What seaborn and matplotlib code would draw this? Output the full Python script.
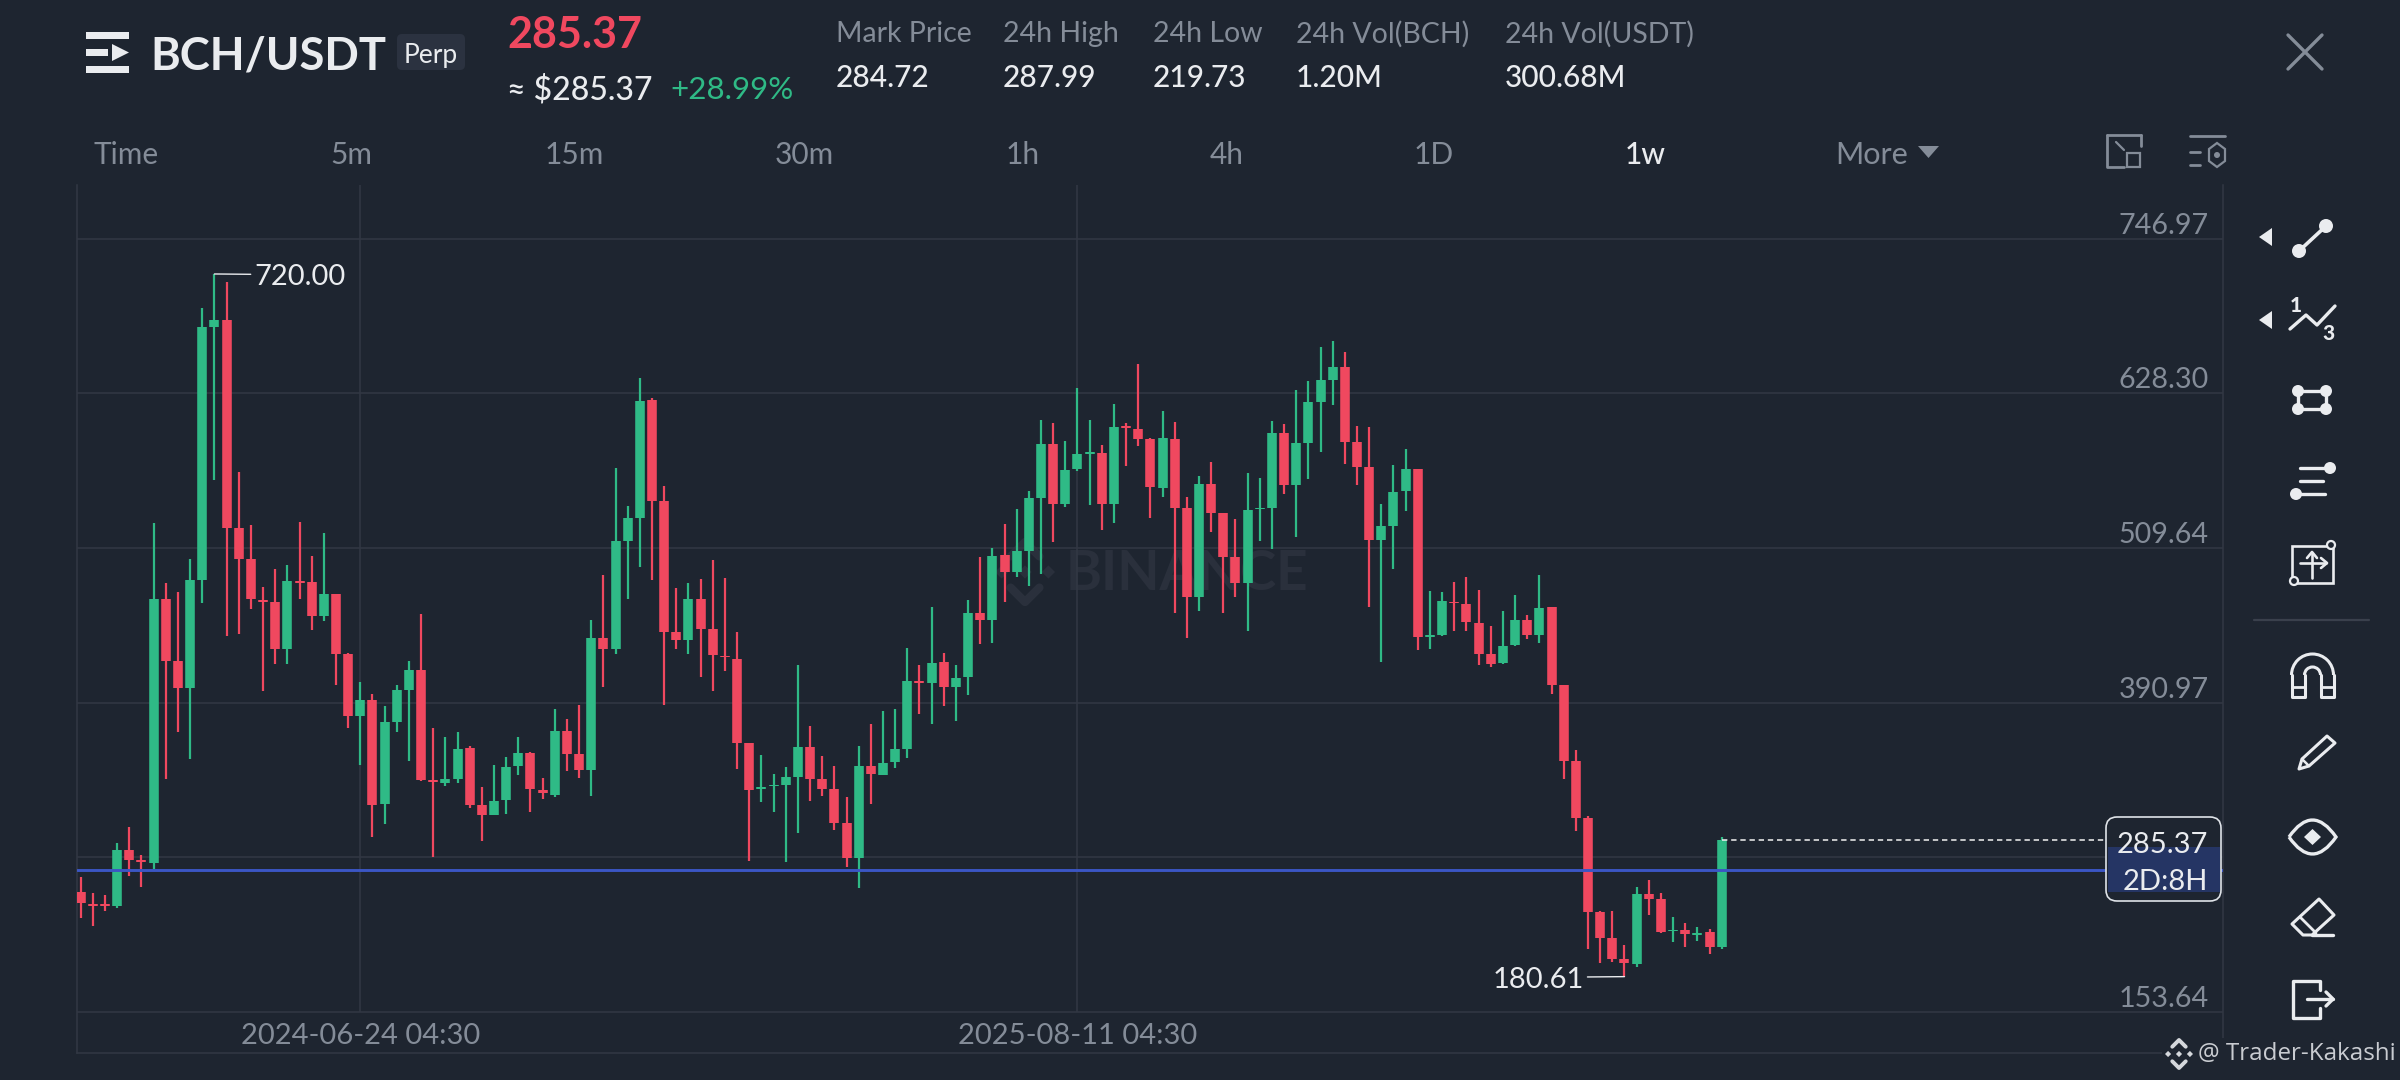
import matplotlib
matplotlib.use("Agg")
import matplotlib.pyplot as plt
import seaborn as sns
import pandas as pd
from matplotlib.patches import FancyBboxPatch, Rectangle, Polygon, Circle, Arc, PathPatch
from matplotlib.path import Path

# ---------- data ----------
open_ = [245.5,236.2,236.2,234.7,277.5,270.0,268.2,470.6,423.0,402.5,485.1,679.4,684.9,524.9,501.5,469.9,468.0,432.3,484.4,483.6,
 457.6,474.0,428.2,380.6,393.2,312.8,376.1,400.6,416.3,331.4,329.6,332.2,356.4,312.1,305.0,316.2,342.2,352.6,323.6,320.3,
 369.4,351.5,339.6,440.8,432.3,514.9,532.8,623.0,545.9,445.3,438.7,470.8,447.8,426.9,424.8,360.3,324.7,326.6,327.4,334.0,
 356.8,332.6,325.0,298.9,272.0,342.2,335.6,345.0,355.7,407.5,406.1,422.0,403.1,410.5,459.9,454.4,504.0,491.1,507.3,548.4,
 589.8,543.7,570.0,581.8,582.6,543.7,603.0,601.0,593.6,555.9,593.5,540.1,472.3,558.8,536.2,503.0,483.0,539.3,540.6,597.6,
 557.7,590.5,622.0,638.6,648.3,591.0,571.8,515.8,526.5,553.4,570.3,441.6,442.6,468.4,466.6,452.3,428.0,421.1,434.9,454.4,
 442.8,464.1,404.2,346.1,302.1,230.2,210.2,194.1,190.0,243.8,240.0,215.4,216.4,212.8,214.6,203.6]
close = [236.9,235.0,234.7,277.5,270.0,268.5,470.6,423.0,402.5,485.1,679.4,684.9,524.9,501.5,470.2,468.0,432.3,484.4,482.5,457.6,
 474.0,428.2,380.6,393.2,312.5,376.1,400.6,416.3,331.4,329.9,332.2,355.6,312.1,305.0,315.8,341.9,351.9,324.4,321.8,369.4,
 351.5,339.3,440.8,432.3,514.9,532.5,622.7,545.9,445.3,438.7,470.8,447.8,427.5,425.6,360.3,324.1,325.8,327.7,333.7,356.8,
 332.6,325.0,298.9,272.0,342.2,335.9,344.7,355.4,407.5,406.1,421.7,403.1,410.2,459.9,454.4,503.7,491.1,507.3,548.1,589.8,
 543.7,569.8,581.6,583.2,543.7,602.7,601.6,593.6,556.1,593.8,540.1,472.3,558.8,536.2,503.0,483.0,538.8,540.6,597.6,557.7,
 590.5,621.4,638.3,648.3,591.0,571.5,515.8,526.5,552.9,570.0,441.3,442.8,468.9,467.2,452.6,428.3,420.6,434.4,454.4,442.8,
 463.6,404.5,346.1,302.6,230.5,210.5,194.1,190.8,243.8,240.2,215.1,216.6,213.1,213.8,203.6,285.37]
high = [257.4,245.1,243.6,283.1,295.7,274.1,529.0,482.5,475.8,501.1,693.5,720.0,714.0,567.7,527.2,479.9,493.3,496.6,529.8,503.4,
 521.2,474.0,428.9,406.6,397.7,388.4,404.4,423.0,458.7,371.6,364.9,368.6,357.5,326.2,343.4,349.3,364.2,353.4,333.3,386.1,
 378.3,389.1,454.2,488.8,570.7,541.8,640.5,624.6,556.9,478.7,482.9,486.2,500.1,486.7,445.0,360.3,350.5,336.5,341.4,419.5,
 373.2,349.6,342.0,318.4,357.9,374.3,384.5,386.1,433.0,419.5,464.2,428.9,419.5,469.7,502.6,510.0,527.8,539.6,553.3,608.1,
 605.4,592.0,632.8,607.6,589.0,619.9,605.4,650.6,594.2,615.0,606.3,549.0,564.9,575.9,536.2,531.9,567.4,563.1,606.9,604.5,
 630.9,637.8,663.7,668.8,660.3,603.3,602.8,543.4,573.1,585.4,570.3,476.4,475.8,483.5,487.4,477.4,449.7,461.5,473.3,457.9,
 488.9,464.6,404.2,354.6,304.1,231.2,231.0,204.9,249.1,254.8,244.5,226.6,221.5,218.9,216.9,287.99]
low = [225.8,219.1,231.0,233.6,257.8,249.6,263.0,332.6,368.6,347.4,467.6,562.1,441.9,443.4,462.8,399.5,420.8,420.8,470.6,446.8,
 453.5,404.7,371.6,343.0,287.9,297.9,368.6,346.3,330.7,272.3,327.3,329.6,310.2,284.9,304.6,305.8,335.5,306.9,316.9,318.8,
 338.1,333.3,319.5,402.9,428.6,470.8,495.2,485.0,389.4,431.9,428.6,410.5,399.5,414.9,340.0,269.6,314.8,306.9,268.8,290.9,
 315.6,319.5,292.9,264.9,249.0,313.4,335.1,340.9,348.3,382.0,374.8,388.6,376.5,397.1,436.0,436.8,468.1,487.2,480.7,489.7,
 514.1,541.5,569.0,542.6,523.2,529.2,572.5,587.6,532.8,549.0,460.0,440.3,461.5,522.2,459.5,471.7,446.2,515.0,508.6,550.8,
 518.1,562.8,583.6,619.1,574.1,558.0,464.6,422.4,493.2,538.0,431.3,431.8,442.1,446.2,446.2,419.8,418.5,420.6,434.4,439.8,
 436.4,397.6,332.0,292.6,201.5,191.3,192.1,180.61,188.2,227.7,213.8,206.9,203.6,207.9,198.0,201.5]
y_ticks = [746.97, 628.30, 509.64, 390.97, 272.30, 153.64]
y_tick_labels = ["746.97", "628.30", "509.64", "390.97", "", "153.64"]
x_tick_pos = [23, 82]
x_tick_labels = ["2024-06-24 04:30", "2025-08-11 04:30"]
level_price = 262.75
last_price = 285.37
stat_names = ["Mark Price", "24h High", "24h Low", "24h Vol(BCH)", "24h Vol(USDT)"]
stat_values = ["284.72", "287.99", "219.73", "1.20M", "300.68M"]
tab_names = ["5m", "15m", "30m", "1h", "4h", "1D", "1w"]

# ---------- style ----------
BG, GRID = "#1e2530", "#323844"
GREEN, RED = "#2fba86", "#f0485f"
GREY, WHITE = "#848c98", "#eaecef"
BLUE = "#3b56c4"
sns.set_theme(style="dark", rc={"axes.facecolor": BG, "figure.facecolor": BG})
plt.rcParams["font.family"] = ["Lato", "DejaVu Sans"]

fig = plt.figure(figsize=(24, 10.8), dpi=100)
def overlay(z):
    a = fig.add_axes([0, 0, 1, 1], zorder=z)
    a.set_xlim(0, 2400); a.set_ylim(1080, 0); a.axis("off")
    a.patch.set_alpha(0)
    return a
back = overlay(0)
front = overlay(2)

# ---------- candles ----------
ax = fig.add_axes([76.5/2400, 27/1080, 2146/2400, 868/1080], zorder=1)
ax.patch.set_alpha(0)
n = list(range(len(open_)))
direction = ["up" if c >= o else "down" for o, c in zip(open_, close)]
palette = {"up": GREEN, "down": RED}
wicks = pd.DataFrame({"x": n + n, "price": high + low, "candle": n + n, "dir": direction + direction})
bodies = pd.DataFrame({"x": n + n, "price": open_ + close, "candle": n + n, "dir": direction + direction})

ax.hlines(y_ticks, -1, 180, color=GRID, lw=1.1, zorder=0)
ax.vlines(x_tick_pos, y_ticks[-1], 800, color=GRID, lw=1.1, zorder=0)
sns.lineplot(data=wicks, x="x", y="price", units="candle", hue="dir", palette=palette, estimator=None,
             lw=1.6, solid_capstyle="butt", legend=False, ax=ax, zorder=2)
sns.lineplot(data=bodies, x="x", y="price", units="candle", hue="dir", palette=palette, estimator=None,
             lw=6.9, solid_capstyle="butt", legend=False, ax=ax, zorder=3)
ax.set_xlim(-0.346, 176.2)
ax.set_ylim(121.99, 788.3)
ax.axhline(level_price, color=BLUE, lw=2.1, zorder=4)
ax.hlines(last_price, 135, 170, color="#f2f2f2", lw=1.1, ls=(0, (3.5, 2.5)), zorder=4)
ax.set_xlabel(""); ax.set_ylabel("")

ax.set_xticks(x_tick_pos, x_tick_labels)
ax.set_yticks(y_ticks, y_tick_labels)
ax.yaxis.tick_right()
ax.tick_params(axis="y", length=0, pad=-9.7, labelsize=20.7, labelcolor=GREY)
ax.tick_params(axis="x", length=0, pad=-12.5, labelsize=21, labelcolor=GREY)
for l in ax.get_yticklabels():
    l.set_ha("right"); l.set_va("bottom")
for l in ax.get_xticklabels():
    l.set_va("center")
for s in ["left", "right", "bottom"]:
    ax.spines[s].set_color(GRID); ax.spines[s].set_linewidth(1.1)
ax.spines["top"].set_visible(False)

ax.annotate("720.00", xy=(11, high[11]), xytext=(28.5, -2.5), textcoords="offset points", va="center", ha="left",
            color=WHITE, fontsize=21, zorder=5,
            arrowprops=dict(arrowstyle="-", color=WHITE, lw=1, shrinkA=0, shrinkB=0, relpos=(0, 0.62)))
ax.annotate("180.61", xy=(127, low[127]), xytext=(-29, -2.5), textcoords="offset points", va="center", ha="right",
            color=WHITE, fontsize=21, zorder=5,
            arrowprops=dict(arrowstyle="-", color=WHITE, lw=1, shrinkA=0, shrinkB=0, relpos=(1, 0.62)))

# ---------- helpers for the app chrome ----------
def ln(a, xs, ys, c=WHITE, lw=2.4, **k):
    a.plot(xs, ys, color=c, lw=lw, solid_capstyle="round", solid_joinstyle="round", **k)
def dot(a, x, y, r, c=WHITE):
    a.add_patch(Circle((x, y), r, fc=c, ec=c, lw=0))
def ring(a, x, y, r, c=WHITE):
    a.add_patch(Circle((x, y), r, fc=BG, ec=c, lw=1.6, zorder=5))
def poly(a, pts, fc=WHITE, ec="none", lw=0, **k):
    a.add_patch(Polygon(pts, closed=True, fc=fc, ec=ec, lw=lw, **k))
def logo(a, cx, cy, s, c):
    q = s * 0.22
    for dx, dy in [(0, 0), (-s * .78, 0), (s * .78, 0)]:
        poly(a, [(cx+dx-q, cy+dy), (cx+dx, cy+dy-q), (cx+dx+q, cy+dy), (cx+dx, cy+dy+q)], fc=c)
    lw = s * 0.2
    ln(a, [cx-s*.48, cx, cx+s*.48], [cy-s*.52, cy-s, cy-s*.52], c=c, lw=lw)
    ln(a, [cx-s*.48, cx, cx+s*.48], [cy+s*.52, cy+s, cy+s*.52], c=c, lw=lw)

# ---------- watermark behind the candles ----------
WM = "#2a303c"
logo(back, 1025, 572, 30, WM)
back.text(1066, 574, "BINANCE", color=WM, fontsize=39.5, fontweight="bold", va="center", ha="left")

# ---------- header ----------
for y0, y1, x1 in [(32, 39, 129), (66, 73, 129), (49, 56, 108)]:
    front.add_patch(Rectangle((86, y0), x1 - 86, y1 - y0, fc=WHITE, ec="none"))
poly(front, [(112, 44), (129, 52.5), (112, 61)])
front.text(150, 56.5, "BCH/USDT", color=WHITE, fontsize=32.7, fontweight="bold", va="center", ha="left")
front.add_patch(FancyBboxPatch((400, 37), 62, 30, boxstyle="round,pad=3,rounding_size=5", fc="#2b3240", ec="none"))
front.text(431, 55, "Perp", color=WHITE, fontsize=19, va="center", ha="center")
front.text(507, 34.5, "285.37", color=RED, fontsize=31, fontweight="bold", va="center", ha="left")
front.text(507, 90, "≈ $285.37", color=WHITE, fontsize=23, fontweight="medium", va="center", ha="left")
front.text(670, 90, "+28.99%", color=GREEN, fontsize=22.5, va="center", ha="left")
for x, nm, v in zip([836, 1003, 1153, 1296, 1505], stat_names, stat_values):
    front.text(x, 34, nm, color=GREY, fontsize=20.5, va="center", ha="left")
    front.text(x, 78, v, color=WHITE, fontsize=21.5, fontweight="medium", va="center", ha="left")

# ---------- tabs ----------
front.text(93, 155, "Time", color=GREY, fontsize=21.5, va="center", ha="left")
for x, nm in zip([351, 574, 804, 1023, 1227, 1434, 1645], tab_names):
    front.text(x, 155, nm, color=WHITE if nm == "1w" else GREY, fontsize=21.5, va="center", ha="center",
               fontweight="medium" if nm == "1w" else "normal")
front.text(1835, 155, "More", color=GREY, fontsize=22, va="center", ha="left")
poly(front, [(1918, 146), (1939, 146), (1928.5, 158)], fc=GREY)
ln(front, [2288, 2322], [35, 69], c=GREY, lw=2.4)
ln(front, [2322, 2288], [35, 69], c=GREY, lw=2.4)

ln(front, [2107, 2107, 2124], [135, 167, 167], c=GREY, lw=2)
ln(front, [2141, 2141], [135, 146], c=GREY, lw=2)
ln(front, [2107, 2141], [135, 135], c=GREY, lw=2)
front.add_patch(Rectangle((2127, 153), 13, 14, fc="none", ec=GREY, lw=1.6))
ln(front, [2116, 2124], [142, 150], c=GREY, lw=1.6)
ln(front, [2190, 2225], [136, 136], c=GREY, lw=2)
ln(front, [2190, 2200], [152, 152], c=GREY, lw=2)
ln(front, [2190, 2200], [165, 165], c=GREY, lw=2)
poly(front, [(2217, 143), (2225, 149), (2225, 161), (2217, 167), (2209, 161), (2209, 149)], fc="none", ec=GREY, lw=1.6)
dot(front, 2217, 155, 3, GREY)

# ---------- price box ----------
front.add_patch(FancyBboxPatch((2112, 823), 103, 72, boxstyle="round,pad=6,rounding_size=11", fc=BG, ec="#dfe3e8", lw=1.2))
front.add_patch(Rectangle((2108, 847), 112, 45, fc="#253564", ec="none"))
front.text(2208, 845, "285.37", color=WHITE, fontsize=21, va="center", ha="right")
front.text(2208, 882, "2D:8H", color=WHITE, fontsize=21, va="center", ha="right")

# ---------- toolbar ----------
poly(front, [(2259, 237), (2272, 228), (2272, 246)], fc=WHITE)
poly(front, [(2259, 320), (2272, 311), (2272, 329)], fc=WHITE)
ln(front, [2299, 2326], [251, 226], lw=2.6)
dot(front, 2299, 251, 7); dot(front, 2326, 226, 7)
ln(front, [2290, 2306, 2317, 2335], [329, 315, 325, 306], lw=2.4)
front.text(2296, 305, "1", color=WHITE, fontsize=15, fontweight="black", va="center", ha="center")
front.text(2328, 334, "3", color=WHITE, fontsize=15, fontweight="black", va="center", ha="center")
ln(front, [2298, 2326, 2326, 2298, 2298], [391, 391, 409, 409, 391], lw=2.4)
for x, y in [(2298, 391), (2326, 391), (2298, 409), (2326, 409)]:
    dot(front, x, y, 6)
ln(front, [2300, 2325], [468, 468]); ln(front, [2300, 2323], [481, 481]); ln(front, [2300, 2325], [494, 494])
dot(front, 2330, 468, 6); dot(front, 2296, 494, 6)
front.add_patch(Rectangle((2292, 546), 41, 37, fc="none", ec=WHITE, lw=1.9))
ln(front, [2300, 2326], [563, 563], lw=1.9); ln(front, [2312, 2312], [553, 578], lw=1.9)
ln(front, [2307, 2312, 2317], [558, 552, 558], lw=1.9); ln(front, [2321, 2327, 2321], [558, 563, 568], lw=1.9)
ring(front, 2331, 545, 4); ring(front, 2294, 581, 4)
ln(front, [2254, 2369], [620, 620], c="#3a404c", lw=1.6)
# magnet
front.add_patch(Arc((2312.5, 675), 42, 42, theta1=180, theta2=360, ec=WHITE, lw=2.2))
front.add_patch(Arc((2312.5, 675), 16, 16, theta1=180, theta2=360, ec=WHITE, lw=2.2))
ln(front, [2291.5, 2291.5, 2304.5, 2304.5], [675, 697, 697, 675], lw=2.2)
ln(front, [2320.5, 2320.5, 2333.5, 2333.5], [675, 697, 697, 675], lw=2.2)
ln(front, [2291.5, 2304.5], [687, 687], lw=2); ln(front, [2320.5, 2333.5], [687, 687], lw=2)
# pencil
poly(front, [(2299, 769), (2302, 759), (2327, 736), (2335, 743), (2309, 766)], fc="none", ec=WHITE, lw=2.2, joinstyle="round")
ln(front, [2302, 2309], [759, 766], lw=1.8)
# eye
front.add_patch(PathPatch(Path([(2289, 837), (2312.5, 803), (2336, 837), (2312.5, 871), (2289, 837)],
                               [Path.MOVETO, Path.CURVE3, Path.CURVE3, Path.CURVE3, Path.CURVE3]),
                          fc="none", ec=WHITE, lw=2.4))
poly(front, [(2304, 837), (2312.5, 829), (2321, 837), (2312.5, 845)])
# eraser
poly(front, [(2292, 924), (2319, 899), (2334, 915), (2312, 935), (2303, 935)], fc="none", ec=WHITE, lw=2.2, joinstyle="round")
ln(front, [2300, 2316], [917, 933], lw=2); ln(front, [2312, 2333], [935, 935], lw=2.4)
# exit
ln(front, [2320, 2320, 2293, 2293, 2320, 2320], [990, 981, 981, 1018, 1018, 1008], lw=2.4)
ln(front, [2307, 2333], [999, 999], lw=2.4); ln(front, [2326, 2333, 2326], [992, 999, 1006], lw=2.4)

# ---------- credit ----------
front.add_patch(Rectangle((2162, 1038), 238, 42, fc=BG, ec="none"))
logo(front, 2179, 1054, 14, "#d5d8dc")
front.text(2198, 1054, "@ Trader-Kakashi", color="#c9ccd1", fontsize=17.4, va="center", ha="left", family=["Open Sans", "DejaVu Sans"])

fig.savefig("out.png", dpi=100, facecolor=BG)
